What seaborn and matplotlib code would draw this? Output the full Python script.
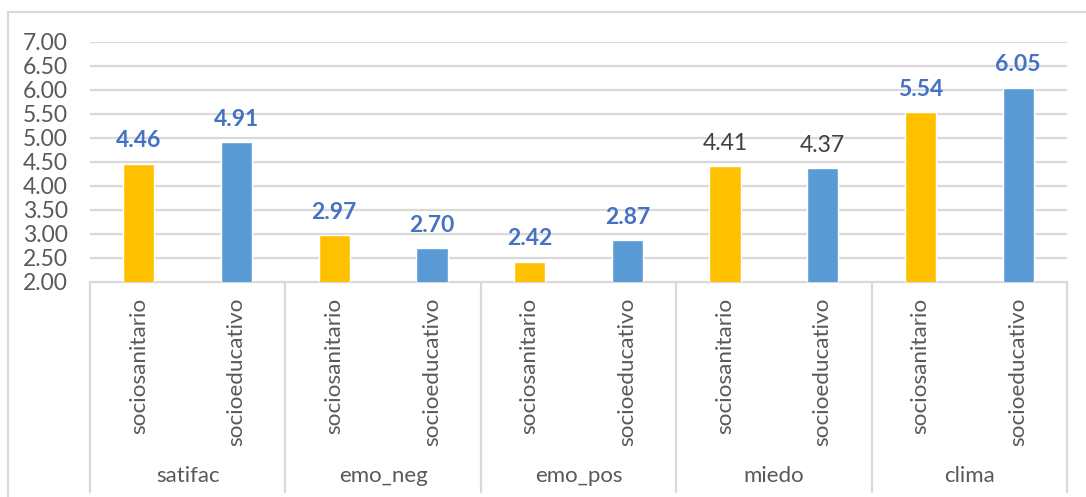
import pandas as pd
import matplotlib.pyplot as plt
import matplotlib.transforms as mtransforms
from matplotlib.patches import Rectangle
import seaborn as sns

# chart data
groups = ["satifac", "emo_neg", "emo_pos", "miedo", "clima"]
subgroups = ["sociosanitario", "socioeducativo"]
socio_sanitario = [4.46, 2.97, 2.42, 4.41, 5.54]
socio_educativo = [4.91, 2.70, 2.87, 4.37, 6.05]
y_ticks = [2.0, 2.5, 3.0, 3.5, 4.0, 4.5, 5.0, 5.5, 6.0, 6.5, 7.0]

rows = []
for g, a, b in zip(groups, socio_sanitario, socio_educativo):
    rows.append({"key": g + "|" + subgroups[0], "group": g, "sub": subgroups[0], "value": a})
    rows.append({"key": g + "|" + subgroups[1], "group": g, "sub": subgroups[1], "value": b})
df = pd.DataFrame(rows)

sns.set_style("white")
plt.rcParams['font.family'] = ['Lato', 'DejaVu Sans']

grey = "#595959"
grid_c = "#D9D9D9"
palette = {"sociosanitario": "#FFC000", "socioeducativo": "#5B9BD5"}

fig = plt.figure(figsize=(10.86, 4.97), dpi=100)
ax = fig.add_axes([90 / 1086, 1 - 282 / 497, (1067 - 90) / 1086, 240 / 497])

sns.barplot(data=df, x="key", y="value", hue="sub", palette=palette, dodge=False,
            width=0.32, legend=False, ax=ax, saturation=1, zorder=3)

ax.set_ylim(2, 7)
ax.set_xlim(-0.5, len(df) - 0.5)
ax.set_yticks(y_ticks)
ax.set_yticklabels([f"{v:.2f}" for v in y_ticks], fontsize=16.5, color=grey)
ax.tick_params(axis="y", length=0, pad=16)
ax.set_xticks([])
ax.set_xlabel("")
ax.set_ylabel("")
for s in ax.spines.values():
    s.set_visible(False)
for v in y_ticks[1:]:
    ax.axhline(v, color=grid_c, lw=1.6, zorder=1)

# value labels
for i, row in df.iterrows():
    if row["group"] == "miedo":
        kw = dict(color="#404040", fontweight="normal")
    else:
        kw = dict(color="#4472C4", fontweight="bold")
    ax.annotate(f"{row['value']:.2f}", (i, row["value"]), xytext=(0, 9),
                textcoords="offset points", ha="center", va="bottom", fontsize=16.5, **kw)

# multi-level category axis
trans = mtransforms.blended_transform_factory(ax.transData, ax.transAxes)
ax.plot([-0.5, len(df) - 0.5], [0, 0], transform=trans, color=grid_c, lw=1.6, clip_on=False)
for k in range(len(groups) + 1):
    xb = -0.5 + 2 * k
    ax.plot([xb, xb], [0, -0.875], transform=trans, color=grid_c, lw=1.6, clip_on=False)
for i, row in df.iterrows():
    ax.text(i, -0.065, row["sub"], transform=trans, rotation=90, ha="center", va="top",
            fontsize=16.2, color=grey)
for k, g in enumerate(groups):
    ax.text(2 * k + 0.5, -0.81, g, transform=trans, ha="center", va="center",
            fontsize=16, color=grey)

# chart border
fig.patches.append(Rectangle((8 / 1086, -0.1), 1.2, 1.1 - 12 / 497, transform=fig.transFigure,
                             fill=False, edgecolor=grid_c, lw=1.6))

fig.savefig("out.png", dpi=100)
